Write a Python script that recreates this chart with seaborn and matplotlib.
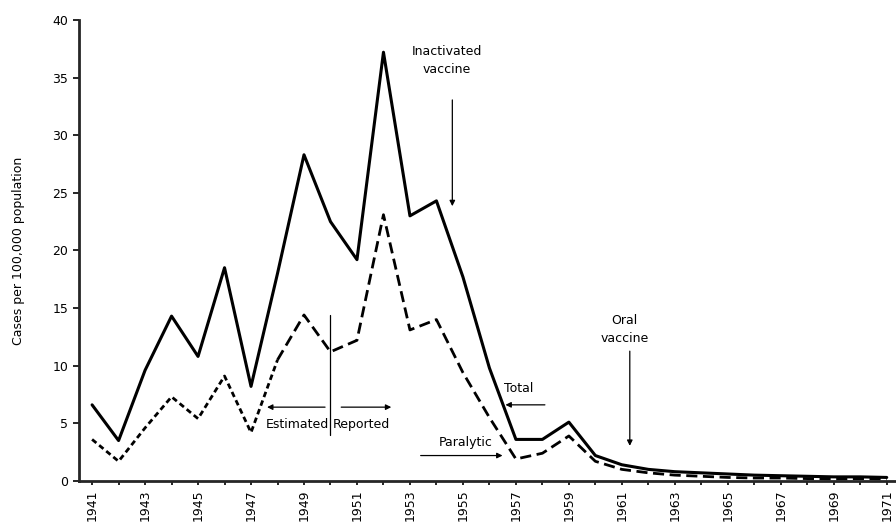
import matplotlib
matplotlib.use('Agg')
import matplotlib.pyplot as plt
import seaborn as sns
import pandas as pd
import numpy as np

years = list(range(1941, 1972))
total = [6.6, 3.5, 9.6, 14.3, 10.8, 18.5, 8.2, 18.0, 28.3, 22.5, 19.2, 37.2, 23.0, 24.3,
         17.7, 9.8, 3.6, 3.6, 5.1, 2.2, 1.4, 1.0, 0.8, 0.7, 0.6, 0.5, 0.45, 0.4, 0.35, 0.35, 0.3]
paralytic = [3.6, 1.7, 4.6, 7.3, 5.4, 9.1, 4.2, 10.5, 14.4, 11.2, 12.2, 23.1, 13.1, 14.0,
             9.4, 5.5, 1.9, 2.4, 3.9, 1.7, 1.0, 0.7, 0.5, 0.4, 0.3, 0.25, 0.25, 0.2, 0.15, 0.2, 0.15]

df = pd.DataFrame({'Year': years, 'Total': total, 'Paralytic': paralytic})

sns.set_style('ticks')
plt.rcParams['font.family'] = ['DejaVu Sans']
plt.rcParams['text.color'] = 'black'
plt.rcParams['xtick.color'] = 'black'
plt.rcParams['ytick.color'] = 'black'
plt.rcParams['axes.labelcolor'] = 'black'

fig = plt.figure(figsize=(8.96, 5.25), dpi=100)
ax = fig.add_axes([0.088, 0.084, 0.912, 0.878])

sns.lineplot(data=df, x='Year', y='Total', color='black', lw=2.2, ax=ax)
sns.lineplot(data=df[df.Year <= 1948], x='Year', y='Paralytic', color='black', lw=2,
             linestyle=(0, (2, 1.3)), ax=ax)
sns.lineplot(data=df[df.Year >= 1948], x='Year', y='Paralytic', color='black', lw=2,
             linestyle=(0, (4, 2)), ax=ax)

ax.set_xlim(1940.5, 1971.35)
ax.set_ylim(0, 40)
ax.set_yticks(np.arange(0, 41, 5))
ax.set_xticks(years)
ax.set_xticklabels([str(y) if y % 2 == 1 else '' for y in years], rotation=90,
                   fontsize=9)
ax.tick_params(axis='y', labelsize=9, length=4, width=1.2)
ax.tick_params(axis='x', length=3, width=1.2, pad=3)
for s in ['top', 'right']:
    ax.spines[s].set_visible(False)
for s in ['left', 'bottom']:
    ax.spines[s].set_linewidth(2)
ax.set_xlabel('')
ax.set_ylabel('Cases per 100,000 population', fontsize=9)
ax.yaxis.set_label_coords(-0.066, 0.5)

arr = dict(arrowstyle='-|>', color='black', lw=0.9, mutation_scale=8)
ax.text(1954.4, 36.5, 'Inactivated\nvaccine', ha='center', va='center', fontsize=9,
        linespacing=1.5)
ax.annotate('', xy=(1954.6, 23.6), xytext=(1954.6, 33.3), arrowprops=arr)
ax.text(1961.1, 13.1, 'Oral\nvaccine', ha='center', va='center', fontsize=9,
        linespacing=1.5)
ax.annotate('', xy=(1961.3, 2.8), xytext=(1961.3, 11.5), arrowprops=arr)
ax.text(1957.1, 8.0, 'Total', ha='center', va='center', fontsize=9)
ax.annotate('', xy=(1956.5, 6.6), xytext=(1958.2, 6.6), arrowprops=arr)
ax.text(1955.1, 3.3, 'Paralytic', ha='center', va='center', fontsize=9)
ax.annotate('', xy=(1956.6, 2.2), xytext=(1953.3, 2.2), arrowprops=arr)
ax.plot([1950, 1950], [4.0, 14.4], color='black', lw=0.9)
ax.annotate('', xy=(1947.5, 6.4), xytext=(1949.9, 6.4), arrowprops=arr)
ax.annotate('', xy=(1952.4, 6.4), xytext=(1950.3, 6.4), arrowprops=arr)
ax.text(1949.95, 4.9, 'Estimated', ha='right', va='center', fontsize=9)
ax.text(1950.1, 4.9, 'Reported', ha='left', va='center', fontsize=9)

fig.savefig('out.png', dpi=100)
